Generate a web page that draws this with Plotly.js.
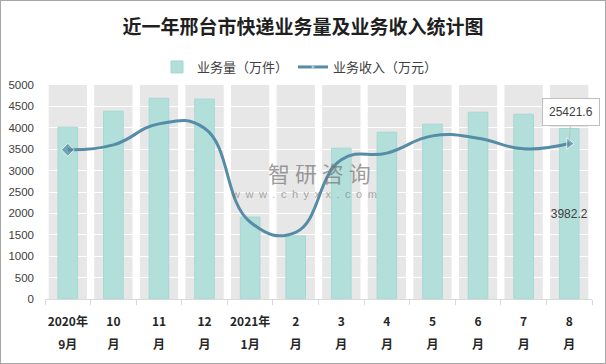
<!DOCTYPE html>
<html>
<head>
<meta charset="utf-8">
<script src="https://cdn.plot.ly/plotly-3.0.1.min.js"></script>
<style>
  html, body { margin: 0; padding: 0; background: #fff; }
  #wrap { position: relative; width: 606px; height: 364px; }
  #chart { position: absolute; left: 0; top: 0; width: 606px; height: 364px; }
  #frame { position: absolute; left: 0; top: 0; width: 606px; height: 364px; box-sizing: border-box; border: 1px solid #a6a6a6; pointer-events: none; }
</style>
</head>
<body>
<div id="wrap"><div id="chart"></div><div id="frame"></div></div>
<script>
// ---- data ----
const categories = ['2020年9月', '10月', '11月', '12月', '2021年1月', '2月', '3月', '4月', '5月', '6月', '7月', '8月'];
const tickLine1 = ['2020年', '10', '11', '12', '2021年', '2', '3', '4', '5', '6', '7', '8'];
const tickLine2 = ['9月', '月', '月', '月', '1月', '月', '月', '月', '月', '月', '月', '月'];
const volume = [4014, 4387, 4690, 4670, 1916, 1473, 3524, 3897, 4084, 4364, 4317, 3982.2];      // 业务量（万件）
const income = [24400, 25200, 28640, 27930, 12600, 10900, 22760, 23860, 26680, 26300, 24560, 25421.6]; // 业务收入（万元）
const volumeName = '业务量（万件）';
const incomeName = '业务收入（万元）';
const titleText = '近一年邢台市快递业务量及业务收入统计图';
const watermarkName = '智研咨询';
const watermarkUrl = 'www.chyxx.com';

// ---- derived ----
const last = categories.length - 1;
const tickText = tickLine1.map((a, i) => '<span style="font-size:12px">' + a + '</span><br><span style="font-size:12px">' + tickLine2[i] + '</span>');
const barText = volume.map((v, i) => i === last ? v.toFixed(1) : '');
const markerSizes = income.map((v, i) => (i === 0 ? 10 : (i === last ? 10 : 0)));
const markerSymbols = income.map((v, i) => (i === last ? 'triangle-right' : 'diamond'));

const bandShapes = categories.map((c, i) => ({
  type: 'rect', layer: 'below', xref: 'x', yref: 'y',
  x0: i - 0.42, x1: i + 0.42, y0: 0, y1: 5000,
  fillcolor: '#e7e7e7', line: { width: 0 }
}));

const traces = [
  {
    type: 'bar', name: volumeName, x: categories, y: volume,
    width: 0.43,
    marker: { color: '#b3dfdb', line: { color: '#a5d8d3', width: 1 } },
    text: barText, textposition: 'inside', insidetextanchor: 'middle',
    constraintext: 'none', textangle: 0,
    textfont: { family: 'Liberation Sans, Arial, sans-serif', size: 12, color: '#404040' },
    hoverinfo: 'skip'
  },
  {
    type: 'scatter', mode: 'lines+markers', name: incomeName, x: categories, y: income,
    yaxis: 'y2',
    line: { color: '#558ca6', width: 3, shape: 'spline', smoothing: 1.3 },
    marker: { color: '#558ca6', size: markerSizes, symbol: markerSymbols },
    hoverinfo: 'skip'
  }
];

const layout = {
  width: 606, height: 364,
  margin: { l: 45, r: 14, t: 85, b: 65 },
  paper_bgcolor: '#ffffff', plot_bgcolor: '#ffffff',
  font: { family: 'Noto Sans CJK SC, sans-serif', color: '#404040' },
  title: {
    text: '<b>' + titleText + '</b>',
    font: { family: 'Noto Sans CJK SC, serif', size: 19, color: '#1f1f1f' },
    x: 0.5, xref: 'container', xanchor: 'center',
    y: 1 - 27 / 364, yref: 'container', yanchor: 'middle'
  },
  showlegend: true,
  legend: {
    orientation: 'h', x: 300 / 606, xref: 'container', xanchor: 'center',
    y: 1 - 67 / 364, yref: 'container', yanchor: 'middle',
    font: { family: 'Noto Sans CJK SC, sans-serif', size: 13, color: '#404040' },
    itemwidth: 30, tracegroupgap: 0
  },
  bargap: 0.5,
  xaxis: {
    type: 'category', tickvals: categories, ticktext: tickText,
    showgrid: false, showline: true, linecolor: '#d9d9d9', linewidth: 1,
    ticks: 'outside', tickson: 'boundaries', ticklen: 5, tickcolor: '#d9d9d9',
    tickangle: 0,
    tickfont: { family: 'Noto Sans CJK SC, sans-serif', size: 17, color: '#262626', weight: 'bold' },
    ticklabelstandoff: 6,
    range: [-0.5, last + 0.5], fixedrange: true
  },
  yaxis: {
    range: [0, 5000], dtick: 500, tick0: 0,
    showgrid: true, gridcolor: '#ffffff', gridwidth: 1,
    zeroline: false, showline: false, ticks: '',
    tickfont: { family: 'Liberation Sans, Arial, sans-serif', size: 11.5, color: '#404040' },
    ticklabelstandoff: 10, fixedrange: true
  },
  yaxis2: {
    overlaying: 'y', side: 'right', range: [0, 35000], visible: false, showgrid: false, fixedrange: true
  },
  shapes: bandShapes,
  annotations: [
    {
      x: categories[last], y: income[last], xref: 'x', yref: 'y2',
      text: income[last].toFixed(1), showarrow: true, ax: 2, ay: -32,
      arrowhead: 0, arrowwidth: 1, arrowcolor: '#bfbfbf', standoff: 2,
      bgcolor: '#ffffff', bordercolor: '#bfbfbf', borderwidth: 1, borderpad: 6,
      font: { family: 'Liberation Sans, Arial, sans-serif', size: 12, color: '#404040' }
    },
    {
      x: 0.501, y: 0.592, xref: 'paper', yref: 'paper',
      text: watermarkName.split('').join(' '), showarrow: false,
      font: { family: 'Noto Sans CJK SC, sans-serif', size: 22, color: 'rgba(115,115,115,0.7)' }
    },
    {
      x: 0.4735, y: 0.492, xref: 'paper', yref: 'paper',
      text: watermarkUrl.split('').join('\u2002'), showarrow: false,
      font: { family: 'Liberation Sans, Arial, sans-serif', size: 11, color: 'rgba(115,115,115,0.6)' }
    }
  ]
};

Plotly.newPlot('chart', traces, layout, { displayModeBar: false, staticPlot: true });
</script>
</body>
</html>
